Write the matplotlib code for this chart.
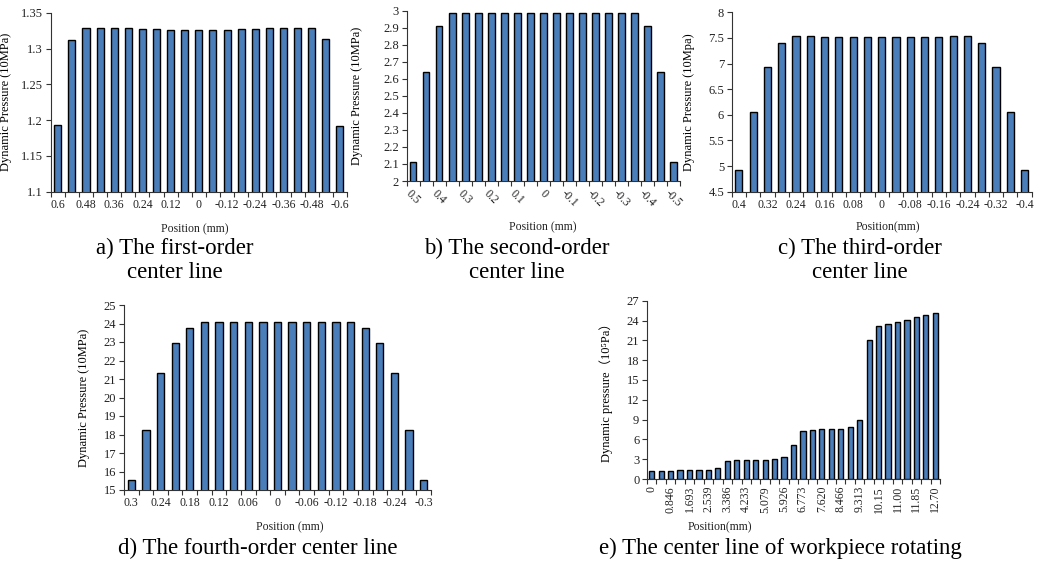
import matplotlib
matplotlib.use("Agg")
import matplotlib.pyplot as plt
from matplotlib.ticker import FixedLocator

plt.rcParams['font.family'] = ['Liberation Serif', 'Noto Sans CJK SC']
plt.rcParams['text.color'] = '#222222'

# data
pos_a = ['0.6', '0.48', '0.36', '0.24', '0.12', '0', '-0.12', '-0.24', '-0.36', '-0.48', '-0.6']
val_a = [1.193, 1.312, 1.328, 1.329, 1.328, 1.328, 1.327, 1.327, 1.326, 1.326, 1.326,
         1.326, 1.326, 1.327, 1.327, 1.328, 1.328, 1.329, 1.328, 1.313, 1.192]

pos_b = ['0.5', '0.4', '0.3', '0.2', '0.1', '0', '-0.1', '-0.2', '-0.3', '-0.4', '-0.5']
val_b = [2.11, 2.64, 2.91, 2.984, 2.988, 2.985, 2.985, 2.985, 2.985, 2.988, 2.988,
         2.988, 2.985, 2.985, 2.985, 2.988, 2.984, 2.984, 2.91, 2.64, 2.11]

pos_c = ['0.4', '0.32', '0.24', '0.16', '0.08', '0', '-0.08', '-0.16', '-0.24', '-0.32', '-0.4']
val_c = [4.93, 6.06, 6.94, 7.41, 7.53, 7.53, 7.51, 7.51, 7.51, 7.51, 7.51,
         7.51, 7.51, 7.51, 7.51, 7.53, 7.53, 7.41, 6.94, 6.06, 4.93]

pos_d = ['0.3', '0.24', '0.18', '0.12', '0.06', '0', '-0.06', '-0.12', '-0.18', '-0.24', '-0.3']
val_d = [15.54, 18.24, 21.34, 22.93, 23.77, 24.06, 24.06, 24.06, 24.06, 24.06, 24.06,
         24.06, 24.06, 24.06, 24.06, 24.06, 23.77, 22.93, 21.34, 18.24, 15.54]

pos_e = ['0', '0.846', '1.693', '2.539', '3.386', '4.233', '5.079', '5.926',
         '6.773', '7.620', '8.466', '9.313', '10.15', '11.00', '11.85', '12.70']
val_e = [1.25, 1.2, 1.2, 1.4, 1.4, 1.4, 1.4, 1.7, 2.7, 2.95, 2.95, 2.95, 2.95, 3.1, 3.3, 5.2,
         7.2, 7.35, 7.5, 7.5, 7.6, 7.8, 9.0, 21.0, 23.1, 23.5, 23.8, 24.1, 24.5, 24.8, 25.1]

W, H = 1044, 564
fig = plt.figure(figsize=(W / 100, H / 100), dpi=100)
BLUE = '#4a7ebb'


def axes_px(left, top, right, bottom):
    return fig.add_axes([left / W, 1 - bottom / H, (right - left) / W, (bottom - top) / H])


def panel(box, vals, labels, ylim, yticks, ylabels, ylab, ylab_x, xlab, xlab_x, xlab_y,
          rot=0, width=0.5):
    ax = axes_px(*box)
    n = len(vals)
    ax.bar(range(n), vals, width=width, color=BLUE, edgecolor='black', linewidth=1.0, zorder=3)
    ax.set_xlim(-0.5, n - 0.5)
    ax.set_ylim(*ylim)
    ax.set_yticks(yticks)
    ax.set_yticklabels(ylabels)
    ax.set_xticks(range(0, n, 2))
    if rot == 0:
        ax.set_xticklabels(labels)
    else:
        ax.set_xticklabels(labels, rotation=rot, ha='center', va='top')
    ax.xaxis.set_minor_locator(FixedLocator([i - 0.5 for i in range(n + 1)]))
    ax.tick_params(axis='x', which='major', length=0, labelsize=8.5, pad=5, colors='#222222')
    ax.tick_params(axis='x', which='minor', length=3.5, width=0.8, direction='out', color='#333333')
    ax.tick_params(axis='y', length=3.5, width=0.8, direction='out', labelsize=9, pad=2,
                   color='#333333', labelcolor='#222222')
    for s in ['top', 'right']:
        ax.spines[s].set_visible(False)
    for s in ['left', 'bottom']:
        ax.spines[s].set_color('#333333')
        ax.spines[s].set_linewidth(0.8)
    ax.set_ylabel(ylab, fontsize=9)
    l, b, w, h = ax.get_position().bounds
    ax.yaxis.set_label_coords((ylab_x / W - l) / w, 0.5)
    fig.text(xlab_x / W, 1 - xlab_y / H, xlab, fontsize=8.5, ha='center', va='center')
    return ax


panel((50.7, 12.7, 347, 191.7), val_a, pos_a, (1.1, 1.35),
      [1.1, 1.15, 1.2, 1.25, 1.3, 1.35], ['1.1', '1.15', '1.2', '1.25', '1.3', '1.35'],
      'Dynamic Pressure (10MPa)', 12, 'Position (mm)', 195, 229)

panel((406.7, 10.7, 680, 181), val_b, pos_b, (2, 3),
      [2 + 0.1 * i for i in range(11)],
      ['2', '2.1', '2.2', '2.3', '2.4', '2.5', '2.6', '2.7', '2.8', '2.9', '3'],
      'Dynamic Pressure (10MPa)', 363, 'Position (mm)', 543, 227, rot=-45)

panel((731.7, 12.3, 1031.7, 191.7), val_c, pos_c, (4.5, 8),
      [4.5, 5, 5.5, 6, 6.5, 7, 7.5, 8], ['4.5', '5', '5.5', '6', '6.5', '7', '7.5', '8'],
      'Dynamic Pressure (10Mpa)', 695, 'Position(mm)', 888, 227)

panel((124, 305, 431, 490), val_d, pos_d, (15, 25),
      list(range(15, 26)), [str(v) for v in range(15, 26)],
      'Dynamic Pressure (10MPa)', 90, 'Position (mm)', 290, 527)

panel((647, 300.7, 940, 479), val_e, pos_e, (0, 27),
      list(range(0, 28, 3)), [str(v) for v in range(0, 28, 3)],
      'Dynamic pressure（10⁵Pa）', 613, 'Position(mm)', 720, 527, rot=90, width=0.55)

# captions
cap = dict(fontsize=16.5, ha='center', va='center', color='black')
fig.text(175 / W, 1 - 248 / H, 'a) The first-order', **cap)
fig.text(175 / W, 1 - 273 / H, 'center line', **cap)
fig.text(517 / W, 1 - 248 / H, 'b) The second-order', **cap)
fig.text(517 / W, 1 - 273 / H, 'center line', **cap)
fig.text(860 / W, 1 - 248 / H, 'c) The third-order', **cap)
fig.text(860 / W, 1 - 273 / H, 'center line', **cap)
fig.text(258 / W, 1 - 548 / H, 'd) The fourth-order center line', **cap)
fig.text(780 / W, 1 - 548 / H, 'e) The center line of workpiece rotating', **cap)

fig.savefig('out.png', dpi=100)
